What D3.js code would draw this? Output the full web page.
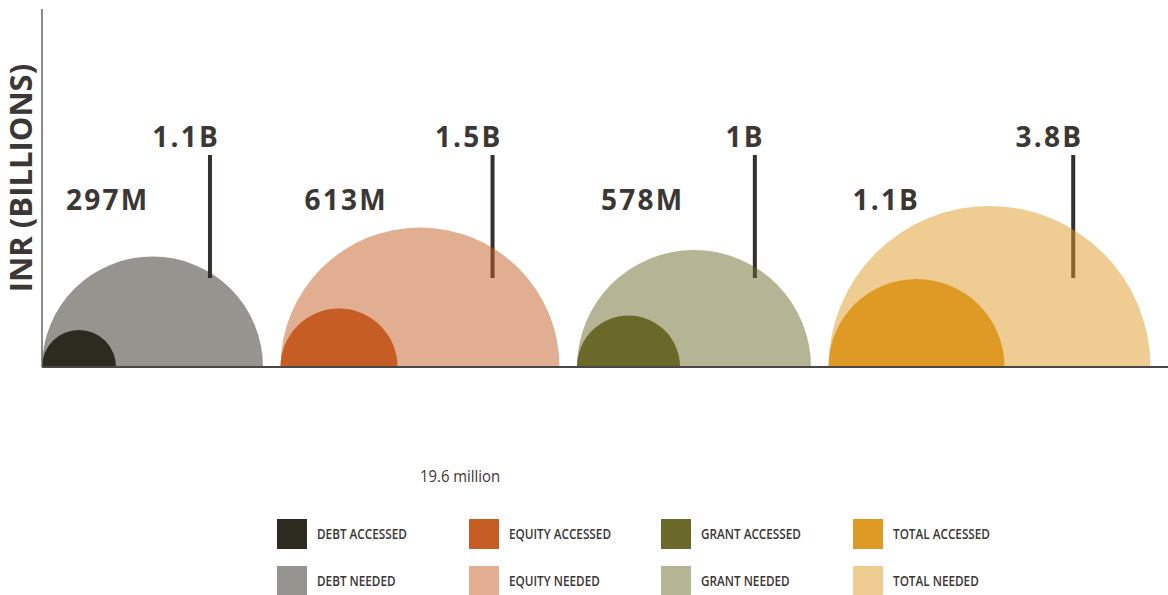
<!DOCTYPE html>
<html lang="en">

<head>
    <meta charset="UTF-8">
    <title>Finance accessed vs needed</title>
    <script src="https://cdn.jsdelivr.net/npm/d3@7"></script>
    <style>
        body { margin: 0; background: #fff; }
        text { font-family: "Open Sans", sans-serif; fill: #3b3735; }
    </style>
</head>

<body>
    <svg id="chart" width="1168" height="595"></svg>

    <script>
        // data
        const categories = ["DEBT", "EQUITY", "GRANT", "TOTAL"]
        const accessedLabels = ["297M", "613M", "578M", "1.1B"]
        const neededLabels = ["1.1B", "1.5B", "1B", "3.8B"]
        // semicircle heights measured against the (untick'd) INR axis
        const accessedHeight = [0.37, 0.585, 0.515, 0.88]
        const neededHeight = [1.105, 1.395, 1.17, 1.61]
        const colors = ["#2d2a1f", "#c55d25", "#6b692a", "#df9a26"]
        const footnote = "19.6 million"

        const width = 1168, height = 595
        const margin = { left: 42, top: 9, baseline: 367 }
        const gap = 0.175

        const svg = d3.select('#chart')

        const y = d3.scaleLinear()
            .domain([0, 3.58])
            .range([margin.baseline, margin.top])
        const pxPerUnit = margin.baseline - y(1)
        const x = d3.scaleLinear()
            .domain([0, (width - margin.left) / pxPerUnit])
            .range([margin.left, width])

        // left edge of each group, stacked by the needed diameters
        const lefts = []
        neededHeight.reduce((acc, r) => { lefts.push(acc); return acc + 2 * r + gap }, 0)

        const groups = categories.map((c, i) => ({
            name: c,
            left: lefts[i],
            acc: accessedHeight[i],
            need: neededHeight[i],
            accLabel: accessedLabels[i],
            needLabel: neededLabels[i],
            color: colors[i]
        }))

        const half = d3.arc()
            .innerRadius(0)
            .startAngle(-Math.PI / 2)
            .endAngle(Math.PI / 2)

        const leaderX = d => x(d.left + d.need * 1.52)

        const g = svg.selectAll('g.grp')
            .data(groups)
            .join('g')
            .attr('class', 'grp')

        // leader lines (behind the translucent "needed" shapes)
        g.append('line')
            .attr('x1', leaderX)
            .attr('x2', leaderX)
            .attr('y1', 155)
            .attr('y2', 278)
            .attr('stroke', '#34302e')
            .attr('stroke-width', 4)

        g.append('path')
            .attr('d', d => half.outerRadius(y(0) - y(d.need))())
            .attr('transform', d => `translate(${x(d.left + d.need)},${y(0)})`)
            .attr('fill', d => d.color)
            .attr('fill-opacity', 0.5)

        g.append('path')
            .attr('d', d => half.outerRadius(y(0) - y(d.acc))())
            .attr('transform', d => `translate(${x(d.left + d.acc)},${y(0)})`)
            .attr('fill', d => d.color)

        g.append('text')
            .attr('x', d => leaderX(d) + 10)
            .attr('y', 147)
            .attr('text-anchor', 'end')
            .attr('font-size', 28)
            .attr('font-weight', 700)
            .attr('letter-spacing', 2.2)
            .text(d => d.needLabel)

        g.append('text')
            .attr('x', d => x(d.left) + 24)
            .attr('y', 210)
            .attr('font-size', 28)
            .attr('font-weight', 700)
            .attr('letter-spacing', 2.2)
            .text(d => d.accLabel)

        // axes
        svg.append('line')
            .attr('x1', margin.left).attr('x2', margin.left)
            .attr('y1', margin.top).attr('y2', margin.baseline)
            .attr('stroke', '#666').attr('stroke-width', 1.5)
        svg.append('line')
            .attr('x1', margin.left).attr('x2', width)
            .attr('y1', margin.baseline).attr('y2', margin.baseline)
            .attr('stroke', '#4a4846').attr('stroke-width', 2)

        svg.append('text')
            .attr('transform', `translate(32,178) rotate(-90)`)
            .attr('text-anchor', 'middle')
            .attr('font-size', 31)
            .attr('font-weight', 700)
            .text('INR (BILLIONS)')

        // narrow-looking text: squeeze horizontally
        svg.append('text')
            .attr('transform', 'translate(420,482) scale(0.93,1)')
            .attr('font-size', 16)
            .text(footnote)

        // legend: accessed row on top, needed row below
        const legendItems = []
        groups.forEach((d, i) => {
            legendItems.push({ col: i, row: 0, color: d.color, op: 1, label: d.name + ' ACCESSED' })
            legendItems.push({ col: i, row: 1, color: d.color, op: 0.5, label: d.name + ' NEEDED' })
        })
        const lg = svg.selectAll('g.leg')
            .data(legendItems)
            .join('g')
            .attr('class', 'leg')
            .attr('transform', d => `translate(${277 + d.col * 192},${519 + d.row * 47})`)
        lg.append('rect')
            .attr('width', 30).attr('height', 30)
            .attr('fill', d => d.color)
            .attr('fill-opacity', d => d.op)
        lg.append('text')
            .attr('transform', 'translate(40,20) scale(0.84,1)')
            .attr('font-size', 14)
            .attr('font-weight', 600)
            .text(d => d.label)
    </script>
</body>

</html>
